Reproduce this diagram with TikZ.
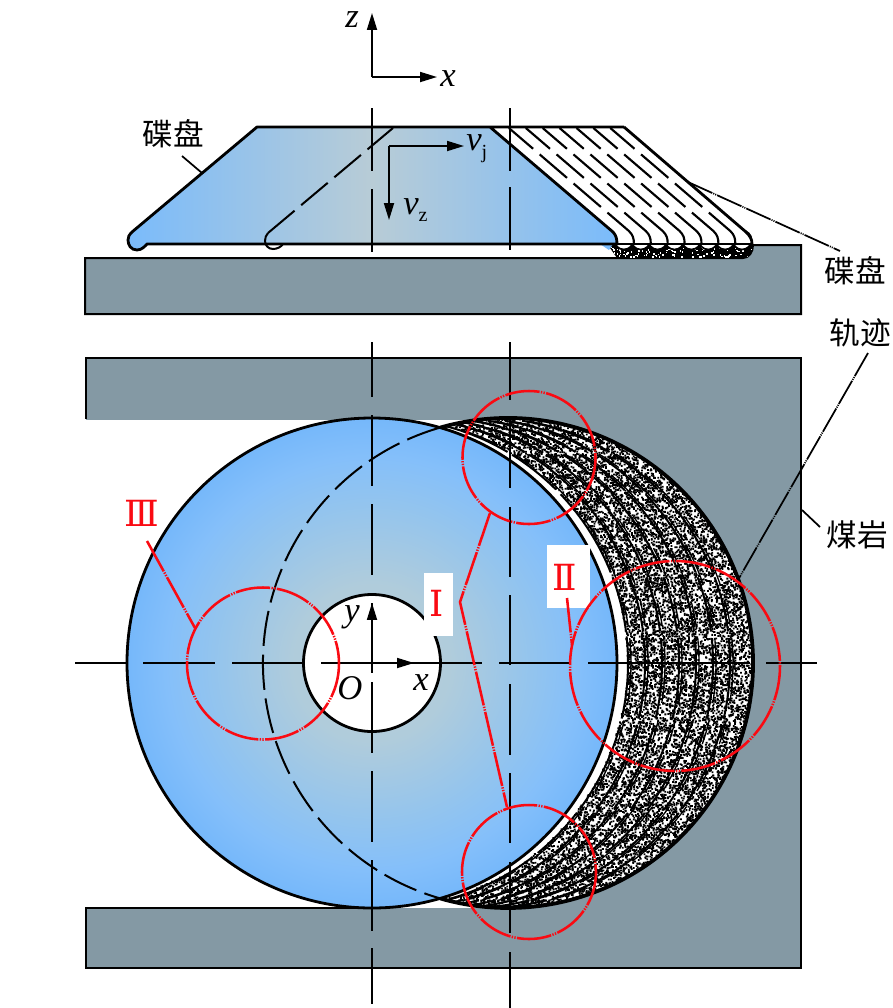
\documentclass[tikz,border=0pt]{standalone}
\usepackage{fontspec}
\usepackage{graphicx}
\setmainfont{Liberation Serif}
\newfontfamily\cjk{Noto Sans CJK SC}
\newfontfamily\romanfont{DejaVu Serif}
\usetikzlibrary{arrows.meta}
\definecolor{rock}{HTML}{8499A4}
\definecolor{bluee}{HTML}{7ABBFB}
\definecolor{bluec}{HTML}{B8CCD6}
\definecolor{redl}{HTML}{FA0A12}
\pgfdeclareradialshading{diskshade}{\pgfpointorigin}{rgb(0bp)=(0.72,0.80,0.84); rgb(8bp)=(0.69,0.80,0.86); rgb(16bp)=(0.58,0.77,0.93); rgb(21bp)=(0.52,0.75,0.98); rgb(25bp)=(0.46,0.72,0.98); rgb(100bp)=(0.46,0.72,0.98)}
\tikzset{
  thick line/.style={draw=black,line width=2.1pt,line join=round},
  axis line/.style={draw=black,line width=1.3pt},
  hidden line/.style={draw=black,line width=1.5pt,dash pattern=on 26.5pt off 6.5pt},
  red line/.style={draw=redl,line width=1.9pt,dash pattern=on 26pt off 1pt on 1pt off 1pt on 1pt off 1pt},
  leader dd/.style={draw=black,line width=1.3pt,dash pattern=on 20pt off .8pt on .8pt off .8pt on .8pt off .8pt},
  ar/.style={-{Stealth[length=12.7pt,width=7.5pt,inset=0pt]},draw=black,line width=1.3pt},
  cjktext/.style={font=\cjk\fontsize{23}{23}\selectfont,inner sep=0pt},
  romantext/.style={font=\romanfont\fontsize{27}{27}\selectfont,text=redl,inner sep=0pt},
  mathtext/.style={font=\fontsize{26}{26}\selectfont\itshape,inner sep=0pt},
}
\pgfmathsetseed{7}
\begin{document}
\begin{tikzpicture}[x=0.75pt,y=-0.75pt]
\useasboundingbox (0,0) rectangle (893,1008);
% ---- upper view: rock
\path[fill=rock,draw=black,line width=1.5pt] (85,258) -- (743,258) .. controls (749,258) and (753,252) .. (753,245) -- (801,245) -- (801,314) -- (85,314) -- cycle;
% speckled cut
\begin{scope}
\clip (608,245) -- (753,245) .. controls (753,252) and (749,258) .. (743,258) -- (617,258) -- cycle;
\fill[black] (600,240) rectangle (760,260);
\foreach \i in {1,...,110}{
  \pgfmathsetmacro\xx{(608+145*rnd)*0.75}
  \pgfmathsetmacro\yp{-(248+10*rnd)*0.75}
  \fill[white] (\xx pt,\yp pt) rectangle ++(1.2pt,1.2pt);
}
\end{scope}
% white strip of discs
\foreach \k in {1,...,8}{
  \pgfmathsetmacro\cx{607+16.875*\k}
  \path[fill=white,draw=black,line width=1.3pt] (\cx,240) circle (9.5);
}
\path[fill=white] (490,127) -- (624,127) -- (748,233) -- (752,244) -- (617,244) -- (613,232) -- cycle;
\draw[thick line] (752,244) -- (600,244);
\draw[thick line] (624,127) -- (746,232) .. controls (750,236) and (752,239) .. (752,244);
\foreach \k in {1,...,7}{
  \pgfmathsetmacro\bx{617+16.9*\k}
  \draw[line width=1.6pt,dash pattern=on 32pt off 6.5pt on 27pt off 6.5pt on 27pt off 6.5pt on 27pt off 6.5pt on 27pt off 6.5pt]
    (\bx,244) .. controls (\bx,238) and (\bx-1,235) .. (\bx-5,231) -- (\bx-125,128);
}
% upper disc
\path[fill=bluee] (600,244) -- (613,244) -- (609,250) -- cycle;
\path[left color=bluee,right color=bluee,middle color=bluec]
  (257,127) -- (490,127) -- (613,232) .. controls (616,235) and (617,239) .. (617,244) -- (147,244) .. controls (145,246) and (142,250) .. (137,250) .. controls (131,250) and (128,245) .. (128,240) .. controls (128,237) and (129,235) .. (132,232) -- cycle;
\draw[thick line] (490,127) -- (613,232) .. controls (616,235) and (617,239) .. (617,244) -- (147,244) .. controls (145,246) and (142,250) .. (137,250) .. controls (131,250) and (128,245) .. (128,240) .. controls (128,237) and (129,235) .. (132,232) -- (257,127) -- (624,127);
\draw[line width=1.5pt,dash pattern=on 26pt off 6.5pt] (268,233) -- (393,128);
\draw[line width=1.5pt] (283,244) .. controls (281,247) and (277,249) .. (273,249) .. controls (268,249) and (265,245) .. (265,241) .. controls (265,238) and (266,235) .. (268,233);
% ---- lower view: rock frame
\path[fill=rock] (86,358) rectangle (801,968);
\path[fill=white] (85,419.5) rectangle (510,908);
\draw[axis line,line width=1.6pt] (86,419) -- (86,358) -- (801,358) -- (801,968) -- (86,968) -- (86,908) -- (372,908);
% crescent
\begin{scope}
\clip (508,663) circle (245);
\fill[white] (508,663) circle (245);
\foreach \b in {1,...,50}{
  \foreach \i in {1,...,260}{
    \pgfmathsetmacro\yy{2*rnd-1}
    \pgfmathsetmacro\xx{(372+136*(0.07+0.93*rnd)+245*sqrt(abs(1-\yy*\yy)))*0.75}
    \pgfmathsetmacro\yp{-(663+245*\yy)*0.75}
    \pgfpathrectangle{\pgfqpoint{\xx pt}{\yp pt}}{\pgfqpoint{1.35pt}{1.35pt}}
  }
  \pgfusepath{fill}
}
\foreach \k in {0,...,6}{
  \pgfmathsetmacro\cx{383+17*\k}
  \draw[line width=1.5pt,dash pattern=on 42pt off 5pt on 70pt off 4pt] (\cx,663) circle (245);
  \pgfmathsetmacro\cxx{386+17*\k}
  \draw[line width=1pt,dash pattern=on 30pt off 14pt on 18pt off 9pt] (\cxx,663) circle (245);
}
\end{scope}
\draw[thick line,line width=2.8pt] (508,663) ++(-106:245) arc (-106:106:245);
% main disc
\path[shading=diskshade] (372,663) circle (245);
\draw[thick line] (372,663) circle (245);
\draw[hidden line] (508,663) ++(-106:245) arc (-106:-254:245);
% hole
\path[fill=white,draw=black,line width=2.1pt] (372,663) circle (68.5);
% ---- centre lines
\foreach \a/\b in {108/171,189/252,342/397,415/486,504/575,682/753,771/842,860/931,948/1004}
  \draw[axis line] (372,\a) -- (372,\b);
\foreach \a/\b in {108/171,187/250,342/400,418/488,507/577,595/665,684/755,773/843,862/933,952/1008}
  \draw[axis line] (510,\a) -- (510,\b);
\foreach \a/\b in {75/126,143/215,232/303,321/482,499/570,588/750,766/817}
  \draw[axis line] (\a,663) -- (\b,663);
\draw[axis line] (372,603) -- (372,673);
% ---- arrows
\coordinate (ozx) at (372,77);
\coordinate (zt) at (372,13);
\coordinate (xt) at (437,77);
\draw[ar] (ozx) -- (zt);
\draw[ar] (ozx) -- (xt);
\coordinate (vc) at (389,146);
\coordinate (vjt) at (464,146);
\coordinate (vzt) at (389,220);
\draw[ar] (vc) -- (vjt);
\draw[ar] (vc) -- (vzt);
\coordinate (oxy) at (372,663);
\coordinate (yt) at (372,603);
\coordinate (xxt) at (414,663);
\draw[ar] (oxy) -- (yt);
\draw[ar] (oxy) -- (xxt);
% ---- white label boxes
\path[fill=white] (424,573) rectangle (453,636);
\path[fill=white] (547,545) rectangle (590,608);
% ---- red circles
\draw[red line] (529,457.5) circle (66.5);
\draw[red line] (529,872) circle (67);
\draw[red line] (675,666) circle (105);
\draw[red line] (263,663.5) circle (76);
\draw[red line] (490,513) -- (460,602) -- (507,807);
\draw[red line] (567,598) -- (572,645);
\draw[red line] (147,541) -- (195,628);
% ---- leaders
\draw[line width=1.3pt] (182,156) -- (202,173);
\draw[line width=1.3pt] (802,510) -- (820,527);
\draw[leader dd] (688,182) -- (840,251);
\draw[leader dd] (868,353) -- (738,580);
% ---- labels
\node[cjktext] (ldiskL) at (173,134) {碟盘};
\node[cjktext] (ldiskR) at (855,271) {碟盘};
\node[cjktext] (ltrack) at (860,333) {轨迹};
\node[cjktext] (lrock) at (857,535) {煤岩};
\node[romantext] (rI) at (437,603) {Ⅰ};
\node[romantext] (rII) at (565,577) {Ⅱ};
\node[romantext] (rIII) at (142,513) {Ⅲ};
\node[mathtext] (tz) at (352,20) {z};
\node[mathtext] (tx) at (448,79) {x};
\node[mathtext] (ty) at (352,617) {y};
\node[mathtext] (tO) at (350,688) {O};
\node[mathtext] (txx) at (421,683) {x};
\node[mathtext,anchor=west] (tvj) at (466,149) {v\raisebox{-6pt}{\fontsize{15}{15}\selectfont\upshape j}};
\node[mathtext,anchor=west] (tvz) at (403,210) {v\raisebox{-5pt}{\fontsize{15}{15}\selectfont\upshape z}};
\end{tikzpicture}
\end{document}
